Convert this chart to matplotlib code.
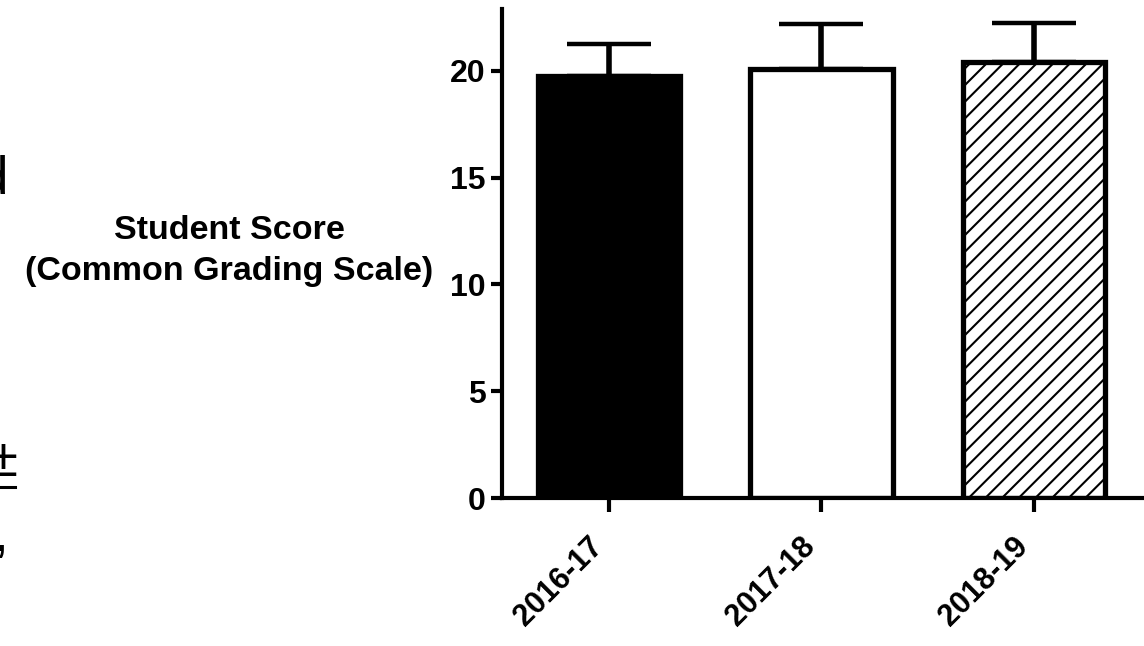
import numpy as np
import matplotlib
matplotlib.use("Agg")
import matplotlib.pyplot as plt
from matplotlib.lines import Line2D

plt.rcParams['font.family'] = ['Liberation Sans', 'DejaVu Sans']
plt.rcParams['hatch.linewidth'] = 1.5

# data
years = ['2016-17', '2017-18', '2018-19']
means = [19.75, 20.1, 20.4]
sem_upper = [1.5, 2.1, 1.85]
fills = ['black', 'white', 'white']
hatches = ['', '', '//']

fig = plt.figure(figsize=(11.44, 6.46), dpi=100)
ax = fig.add_axes([502 / 1144, 148 / 646, 640 / 1144, 489 / 646])

x = np.arange(len(years))
for i in range(len(years)):
    ax.bar(x[i], means[i], width=0.67, color=fills[i], edgecolor='black',
           linewidth=3.8, hatch=hatches[i], zorder=2)
ax.errorbar(x, means, yerr=[np.zeros(len(x)), sem_upper], fmt='none',
            ecolor='black', elinewidth=4, capsize=30, capthick=3.2, zorder=1)

ax.set_xlim(-0.503, 2.508)
ax.set_ylim(0, 22.9)
ax.set_yticks([0, 5, 10, 15, 20])
ax.set_xticks(x)
ax.set_xticklabels(years, rotation=45, ha='right', va='top',
                   fontsize=22, fontweight='bold')
for lab in ax.get_yticklabels():
    lab.set_fontsize(23)
    lab.set_fontweight('bold')

for s in ['top', 'right']:
    ax.spines[s].set_visible(False)
for s in ['left', 'bottom']:
    ax.spines[s].set_linewidth(3)
ax.tick_params(axis='y', length=8, width=3, pad=4)
ax.tick_params(axis='x', length=10, width=3, pad=14)

ax.set_ylabel('Student Score\n(Common Grading Scale)', rotation=0,
              ha='center', va='center', fontsize=24.5, fontweight='bold',
              linespacing=1.38)
ax.yaxis.set_label_coords(-0.4266, 0.505)

# clipped slide text at the left edge
fig.text(-21 / 1144, 1 - 193 / 646, 'd', fontsize=38, va='baseline')
fig.text(-12 / 1144, 1 - 476 / 646, '\u00b1', fontsize=38, va='baseline')
fig.add_artist(Line2D([0, 15 / 1144], [1 - 487 / 646, 1 - 487 / 646],
                      transform=fig.transFigure, color='black', linewidth=2.2))
fig.text(-7 / 1144, 1 - 551 / 646, ',', fontsize=38, va='baseline')

fig.savefig('out.png', dpi=100)
